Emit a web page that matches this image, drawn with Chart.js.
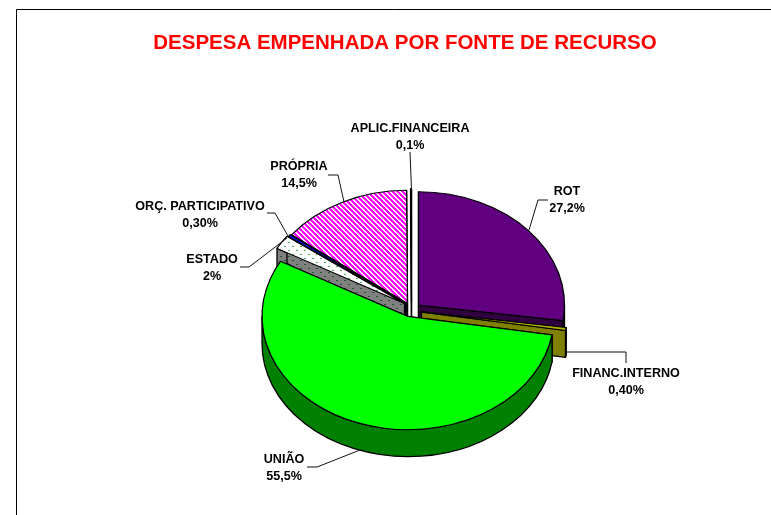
<!DOCTYPE html>
<html><head><meta charset="utf-8">
<style>html,body{margin:0;padding:0;background:#fff}canvas{display:block}</style>
<script src="https://cdn.jsdelivr.net/npm/chart.js@4"></script>
</head><body><canvas id="c" width="771" height="515"></canvas>
<script>
// Data
const titleText = 'DESPESA EMPENHADA POR FONTE DE RECURSO';
const categories = ['ROT','FINANC.INTERNO','UNIÃO','ESTADO','ORÇ. PARTICIPATIVO','PRÓPRIA','APLIC.FINANCEIRA'];
const values = [27.2,0.4,55.5,2,0.3,14.5,0.1];
const valueLabels = ['27,2%','0,40%','55,5%','2%','0,30%','14,5%','0,1%'];

// Styling / layout (not data)
const squash = 0.775, depth = 27, pieX = 410, pieY = 311, radius = 146;
const explodeShift = [[8.5,-6],[11.5,1],[-2,5.5],[-5.5,-7.5],[-4,-7.5],[-2.5,-7.5],[1.5,-9]];
const labelCenters = [[567,192],[626,374],[284,460],[212,260],[200,207],[299,167],[410,129]];
const leaders = [
 [[548,200],[538,200],[529,230]],
 [[566,352],[626,352],[626,363]],
 [[307,467],[317,467],[360,450]],
 [[240,267],[249,267],[287,238]],
 [[267,213],[275,213],[288,236]],
 [[328,175],[338,175],[344,202]],
 [[410,152],[411.5,190]]
];
function tile(w,h,bg,fg,test){
  const t=document.createElement('canvas');t.width=w;t.height=h;
  const g=t.getContext('2d');g.fillStyle=bg;g.fillRect(0,0,w,h);g.fillStyle=fg;
  for(let y=0;y<h;y++)for(let x=0;x<w;x++)if(test(x,y))g.fillRect(x,y,1,1);
  return g.createPattern(t,'repeat');
}
const stripe=(x,y)=>((x-y+50)%5)<2.5;
const dots=(x,y)=>(x%8===0&&y%8===0)||(x%8===4&&y%8===4)||(x%8===1&&y%8===0)||(x%8===5&&y%8===4);
const topFill=['#600080','#b0b000','#00ff00',tile(8,8,'#ffffff','#3fa85a',dots),'#0000ff',tile(5,5,'#ffffff','#ff00ff',stripe),'#ffffff'];
const sideFill=['#300040','#808000','#008000',tile(8,8,'#808080','#1c5c28',dots),'#000080',tile(5,5,'#808080','#800080',stripe),'#808080'];
// keep patterns undistorted by the draw transform
[3,5].forEach(i=>topFill[i].setTransform(new DOMMatrix().scale(1,1/squash)));

let baseY=0;
const pie3d={
  id:'pie3d',
  // explode each slice: move the arcs the library laid out
  afterDatasetsUpdate(chart){
    chart.getDatasetMeta(0).data.forEach((a,i)=>{
      baseY=a.y;
      a.x=pieX+explodeShift[i][0];
      a.y=baseY+explodeShift[i][1]/squash;
    });
  },
  beforeDraw(chart){
    const c=chart.ctx;c.save();c.strokeStyle='#000';c.lineWidth=1;
    c.beginPath();c.moveTo(16.5,515);c.lineTo(16.5,9.5);c.lineTo(771,9.5);c.stroke();c.restore();
  },
  beforeDatasetsDraw(chart){
    const c=chart.ctx, arcs=chart.getDatasetMeta(0).data;
    const geom=arcs.map(a=>({x:a.x,y:pieY+(a.y-baseY)*squash,r:a.outerRadius,a0:a.startAngle,a1:a.endAngle}));
    const order=[5,6,4,3,0,1,2];
    c.save();c.strokeStyle='#000';c.lineWidth=1.3;c.lineJoin='round';
    order.forEach(i=>{
      const g=geom[i];
      const P=a=>[g.x+g.r*Math.cos(a),g.y+g.r*squash*Math.sin(a)];
      c.fillStyle=sideFill[i];
      [g.a0,g.a1].forEach(a=>{
        const p=P(a);
        c.beginPath();c.moveTo(g.x,g.y);c.lineTo(p[0],p[1]);c.lineTo(p[0],p[1]+depth);c.lineTo(g.x,g.y+depth);c.closePath();c.fill();c.stroke();
      });
      // outer wall: only the part of the rim facing the viewer
      const tau=Math.PI*2;
      for(const k of [-1,0,1]){
        const s=Math.max(g.a0,k*tau),e=Math.min(g.a1,k*tau+Math.PI);
        if(e>s){
          c.beginPath();
          c.ellipse(g.x,g.y,g.r,g.r*squash,0,s,e);
          c.ellipse(g.x,g.y+depth,g.r,g.r*squash,0,e,s,true);
          c.closePath();c.fill();c.stroke();
        }
      }
    });
    c.restore();
    c.save();
    c.translate(0,pieY);c.scale(1,squash);c.translate(0,-baseY);
  },
  afterDatasetsDraw(chart){
    chart.ctx.restore();
    const c=chart.ctx;
    c.save();c.strokeStyle='#111';c.lineWidth=1;
    leaders.forEach(l=>{c.beginPath();l.forEach((p,j)=>j?c.lineTo(p[0],p[1]):c.moveTo(p[0],p[1]));c.stroke();});
    c.fillStyle='#000';c.font='bold 12.6px "Liberation Sans"';c.textAlign='center';c.textBaseline='middle';
    categories.forEach((n,i)=>{
      const [x,y]=labelCenters[i];
      c.fillText(n,x,y);c.fillText(valueLabels[i],x,y+17);
    });
    c.restore();
  }
};

new Chart(document.getElementById('c'),{
  type:'pie',
  data:{labels:categories,datasets:[{data:values,backgroundColor:topFill,borderColor:'#000',borderWidth:1.3,clip:false}]},
  options:{
    responsive:false,animation:false,radius:radius,
    layout:{padding:{left:39}},
    plugins:{
      legend:{display:false},tooltip:{enabled:false},
      title:{display:true,text:titleText,color:'#ff0000',font:{family:'"Liberation Sans"',size:20.5,weight:'bold'},padding:{top:31,bottom:0}}
    }
  },
  plugins:[pie3d]
});
</script></body></html>
